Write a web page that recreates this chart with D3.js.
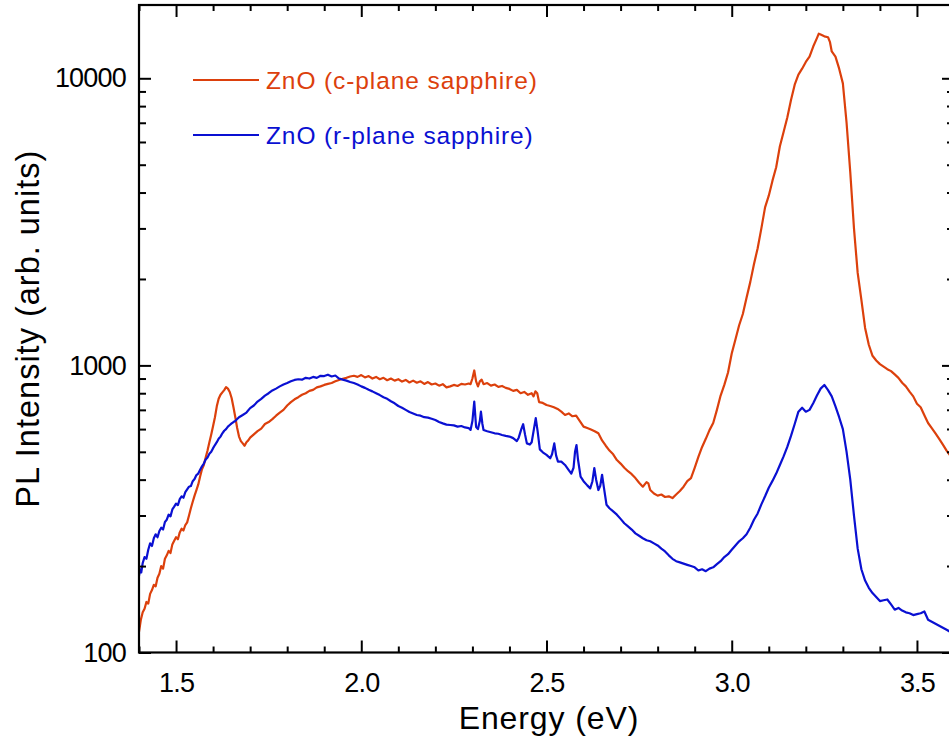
<!DOCTYPE html>
<html>
<head>
<meta charset="utf-8">
<script src="https://cdn.jsdelivr.net/npm/d3@7"></script>
<style>
  html, body { margin: 0; padding: 0; background: #fff; }
  svg { display: block; }
  text { font-family: "Liberation Sans", Arial, sans-serif; }
</style>
</head>
<body>
<div id="chart"></div>
<script>
// PL spectra, [energy (eV), intensity (arb. units)]
const cPlane = [
  [1.400,118],[1.405,130],[1.410,138],[1.415,142],[1.420,150],[1.425,148],[1.430,160],[1.435,165],
  [1.440,172],[1.445,170],[1.450,182],[1.455,188],[1.460,200],[1.465,196],[1.470,212],[1.475,218],
  [1.480,226],[1.485,222],[1.490,238],[1.495,245],[1.500,252],[1.505,248],[1.510,262],[1.515,270],
  [1.520,266],[1.525,278],[1.530,284],[1.535,300],[1.540,318],[1.545,335],[1.550,352],[1.555,368],
  [1.560,385],[1.565,410],[1.570,435],[1.575,450],[1.580,478],[1.585,505],[1.590,540],[1.595,575],
  [1.600,615],[1.605,660],[1.610,720],[1.615,765],[1.620,790],[1.625,805],[1.630,820],[1.635,840],
  [1.640,830],[1.645,808],[1.650,770],[1.655,715],[1.660,660],[1.665,605],[1.670,565],[1.675,545],
  [1.680,535],[1.685,525],[1.690,540],[1.695,548],[1.700,560],[1.710,575],[1.720,590],[1.730,602],
  [1.740,625],[1.750,635],[1.760,650],[1.770,668],[1.780,685],[1.790,700],[1.800,725],[1.810,745],
  [1.820,762],[1.830,775],[1.840,790],[1.850,800],[1.860,815],[1.870,822],[1.880,838],[1.890,845],
  [1.900,855],[1.910,862],[1.920,868],[1.930,880],[1.940,890],[1.950,898],[1.960,905],[1.970,915],
  [1.980,920],[1.990,912],[2.000,925],[2.010,908],[2.020,918],[2.030,900],[2.040,912],[2.050,895],
  [2.060,905],[2.070,888],[2.080,900],[2.090,885],[2.100,895],[2.110,878],[2.120,890],[2.130,872],
  [2.140,885],[2.150,870],[2.160,880],[2.170,862],[2.180,875],[2.190,858],[2.200,865],[2.210,850],
  [2.220,860],[2.230,838],[2.240,845],[2.250,855],[2.260,848],[2.270,862],[2.280,858],[2.290,865],
  [2.295,860],[2.300,900],[2.305,960],[2.310,880],[2.315,845],[2.320,880],[2.325,892],[2.330,860],
  [2.340,868],[2.350,850],[2.360,858],[2.370,842],[2.380,848],[2.390,835],[2.400,828],[2.410,815],
  [2.420,822],[2.430,800],[2.440,808],[2.450,790],[2.460,800],[2.465,780],[2.470,812],[2.475,800],
  [2.480,745],[2.490,740],[2.500,728],[2.510,722],[2.520,715],[2.530,705],[2.540,690],[2.550,672],
  [2.560,680],[2.570,665],[2.580,668],[2.590,640],[2.600,612],[2.610,605],[2.620,598],[2.630,590],
  [2.640,580],[2.650,548],[2.660,525],[2.670,505],[2.680,490],[2.690,468],[2.700,455],[2.710,440],
  [2.720,428],[2.730,418],[2.740,405],[2.750,390],[2.760,378],[2.770,392],[2.775,388],[2.780,368],
  [2.790,358],[2.800,352],[2.810,355],[2.820,348],[2.830,350],[2.840,345],[2.850,355],[2.860,365],
  [2.870,378],[2.880,395],[2.890,405],[2.900,440],[2.910,480],[2.920,520],[2.930,555],[2.940,595],
  [2.950,630],[2.960,700],[2.970,785],[2.980,855],[2.990,945],[3.000,1100],[3.010,1230],[3.020,1380],
  [3.030,1510],[3.040,1720],[3.050,1950],[3.060,2250],[3.070,2560],[3.080,3000],[3.090,3550],[3.100,3900],
  [3.110,4400],[3.120,4900],[3.130,5800],[3.140,6500],[3.150,7300],[3.160,8400],[3.170,9500],[3.180,10300],
  [3.190,10800],[3.200,11400],[3.210,11900],[3.220,12900],[3.230,13800],[3.235,14300],[3.240,14200],[3.250,14000],
  [3.260,13900],[3.265,13400],[3.270,12400],[3.280,11900],[3.290,10800],[3.300,9600],[3.310,7000],[3.320,4700],
  [3.330,3000],[3.340,2100],[3.350,1690],[3.360,1350],[3.370,1180],[3.380,1080],[3.390,1040],[3.400,1010],
  [3.410,990],[3.420,970],[3.430,955],[3.440,930],[3.450,905],[3.460,870],[3.470,845],[3.480,810],
  [3.490,780],[3.500,735],[3.510,715],[3.520,670],[3.530,630],[3.540,605],[3.550,580],[3.560,555],
  [3.570,530],[3.580,505],[3.590,485],[3.600,465]
];

const rPlane = [
  [1.400,185],[1.403,195],[1.406,190],[1.410,205],[1.415,215],[1.420,212],[1.425,228],[1.430,240],
  [1.435,235],[1.440,250],[1.445,258],[1.450,252],[1.455,265],[1.460,272],[1.465,268],[1.470,285],
  [1.475,290],[1.480,302],[1.485,298],[1.490,315],[1.495,322],[1.500,330],[1.505,326],[1.510,342],
  [1.515,350],[1.520,346],[1.525,362],[1.530,370],[1.535,378],[1.540,380],[1.545,395],[1.550,402],
  [1.555,415],[1.560,420],[1.565,433],[1.570,445],[1.575,455],[1.580,470],[1.585,478],[1.590,492],
  [1.595,500],[1.600,515],[1.605,528],[1.610,540],[1.615,555],[1.620,565],[1.625,580],[1.630,592],
  [1.635,600],[1.640,612],[1.645,620],[1.650,628],[1.655,635],[1.660,640],[1.665,650],[1.670,660],
  [1.680,672],[1.690,685],[1.700,710],[1.710,725],[1.720,748],[1.730,765],[1.740,785],[1.750,800],
  [1.760,818],[1.770,830],[1.780,845],[1.790,858],[1.800,868],[1.810,880],[1.820,890],[1.830,895],
  [1.840,892],[1.850,905],[1.860,900],[1.870,912],[1.880,905],[1.890,920],[1.900,918],[1.910,928],
  [1.920,915],[1.930,922],[1.940,900],[1.950,892],[1.960,885],[1.970,875],[1.980,868],[1.990,858],
  [2.000,845],[2.010,835],[2.020,822],[2.030,812],[2.040,800],[2.050,788],[2.060,775],[2.070,765],
  [2.080,750],[2.090,738],[2.100,722],[2.110,712],[2.120,700],[2.130,688],[2.140,680],[2.150,672],
  [2.160,668],[2.170,660],[2.180,658],[2.190,652],[2.200,645],[2.210,635],[2.220,628],[2.230,622],
  [2.240,620],[2.250,618],[2.260,612],[2.270,615],[2.280,608],[2.290,605],[2.295,596],[2.300,640],
  [2.305,748],[2.310,610],[2.315,600],[2.320,640],[2.323,690],[2.327,625],[2.330,596],[2.340,590],
  [2.350,585],[2.360,580],[2.370,578],[2.380,572],[2.390,568],[2.400,565],[2.410,558],[2.420,545],
  [2.425,560],[2.432,600],[2.437,624],[2.442,575],[2.447,535],[2.455,530],[2.460,540],[2.466,600],
  [2.471,655],[2.476,590],[2.482,510],[2.490,498],[2.500,488],[2.510,475],[2.515,490],[2.521,535],
  [2.526,485],[2.531,462],[2.540,462],[2.550,450],[2.560,432],[2.567,420],[2.573,440],[2.577,500],
  [2.581,528],[2.585,470],[2.592,410],[2.600,395],[2.610,382],[2.618,373],[2.624,395],[2.629,439],
  [2.634,400],[2.640,368],[2.645,380],[2.650,416],[2.655,375],[2.662,327],[2.670,318],[2.680,310],
  [2.690,302],[2.700,292],[2.710,282],[2.720,275],[2.730,268],[2.740,260],[2.750,255],[2.760,250],
  [2.770,246],[2.780,244],[2.790,240],[2.800,236],[2.810,230],[2.820,225],[2.830,218],[2.840,212],
  [2.850,208],[2.860,206],[2.870,204],[2.880,202],[2.890,200],[2.900,198],[2.910,193],[2.920,195],
  [2.930,192],[2.940,196],[2.950,198],[2.960,203],[2.970,208],[2.980,215],[2.990,220],[3.000,228],
  [3.010,236],[3.020,244],[3.030,250],[3.040,258],[3.050,272],[3.060,290],[3.070,305],[3.080,328],
  [3.090,350],[3.100,375],[3.110,396],[3.120,420],[3.130,450],[3.140,482],[3.150,520],[3.160,568],
  [3.170,625],[3.180,690],[3.190,712],[3.200,690],[3.210,700],[3.220,738],[3.230,785],[3.240,830],
  [3.250,855],[3.260,820],[3.270,780],[3.280,720],[3.290,660],[3.300,600],[3.310,500],[3.320,400],
  [3.330,300],[3.340,230],[3.350,195],[3.360,178],[3.370,168],[3.380,161],[3.390,156],[3.400,151],
  [3.410,152],[3.420,153],[3.430,147],[3.440,141],[3.450,143],[3.460,140],[3.470,138],[3.480,137],
  [3.490,135],[3.500,136],[3.510,137],[3.520,139],[3.530,130],[3.540,128],[3.550,126],[3.560,124],
  [3.570,122],[3.580,120],[3.590,118],[3.600,116]
];

const seriesNames = ["ZnO (c-plane sapphire)", "ZnO (r-plane sapphire)"];
const seriesColors = ["#dc400c", "#0a10d2"];

const xTicks = [1.5, 2.0, 2.5, 3.0, 3.5];
const yTicks = [100, 1000, 10000];

const W = 949, H = 741;
const margin = { top: 5, right: -5, bottom: 88.5, left: 139 };
const width = W - margin.left - margin.right;
const height = H - margin.top - margin.bottom;

const svg = d3.select("#chart")
  .append("svg")
  .attr("width", W)
  .attr("height", H);

const g = svg.append("g")
  .attr("transform", `translate(${margin.left},${margin.top})`);

const x = d3.scaleLinear().domain([1.4, 3.6]).range([0, width]);
const y = d3.scaleLog().domain([100, 18000]).range([height, 0]);

// minor ticks
const xMinor = d3.range(14, 37).map(d => d / 10).filter(d => !xTicks.some(t => Math.abs(t - d) < 1e-6));
const yMinor = [];
[100, 1000, 10000].forEach(dec => {
  for (let k = 2; k <= 9; k++) {
    const v = dec * k;
    if (v <= 18000) yMinor.push(v);
  }
});

// Clip for data
svg.append("defs").append("clipPath")
  .attr("id", "clip")
  .append("rect")
  .attr("width", width)
  .attr("height", height);

// Lines
const line = d3.line()
  .x(d => x(d[0]))
  .y(d => y(d[1]));

const plot = g.append("g").attr("clip-path", "url(#clip)");
[cPlane, rPlane].forEach((data, i) => {
  plot.append("path")
    .datum(data)
    .attr("fill", "none")
    .attr("stroke", seriesColors[i])
    .attr("stroke-width", 2.2)
    .attr("stroke-linejoin", "round")
    .attr("d", line);
});

// Axes (ticks pointing inward)
const styleAxis = sel => {
  sel.select(".domain").remove();
  sel.selectAll("line").attr("stroke", "#000").attr("stroke-width", 2);
  sel.selectAll("text")
    .attr("fill", "#000")
    .style("font-size", "27px")
    .style("letter-spacing", "-0.8px");
};

g.append("g")
  .attr("transform", `translate(0,${height})`)
  .call(d3.axisBottom(x).tickValues(xTicks).tickFormat(d3.format(".1f")).tickSize(-12).tickPadding(20))
  .call(styleAxis);
g.append("g")
  .attr("transform", `translate(0,${height})`)
  .call(d3.axisBottom(x).tickValues(xMinor).tickFormat("").tickSize(-6))
  .call(styleAxis);

g.append("g")
  .call(d3.axisTop(x).tickValues(xTicks).tickFormat("").tickSize(-12))
  .call(styleAxis);
g.append("g")
  .call(d3.axisTop(x).tickValues(xMinor).tickFormat("").tickSize(-6))
  .call(styleAxis);

g.append("g")
  .call(d3.axisLeft(y).tickValues(yTicks).tickFormat(d3.format("d")).tickSize(-12).tickPadding(13))
  .call(styleAxis);
g.append("g")
  .call(d3.axisLeft(y).tickValues(yMinor).tickFormat("").tickSize(-7))
  .call(styleAxis);

g.append("g")
  .attr("transform", `translate(${width},0)`)
  .call(d3.axisRight(y).tickValues(yTicks).tickFormat("").tickSize(-12))
  .call(styleAxis);
g.append("g")
  .attr("transform", `translate(${width},0)`)
  .call(d3.axisRight(y).tickValues(yMinor).tickFormat("").tickSize(-7))
  .call(styleAxis);

// Frame
g.append("rect")
  .attr("width", width)
  .attr("height", height)
  .attr("fill", "none")
  .attr("stroke", "#000")
  .attr("stroke-width", 2.2);

// Axis titles
svg.append("text")
  .attr("x", 549)
  .attr("y", 729)
  .attr("text-anchor", "middle")
  .style("font-size", "32px")
  .style("letter-spacing", "0.9px")
  .text("Energy (eV)");

svg.append("text")
  .attr("transform", `translate(39,${margin.top + height / 2}) rotate(-90)`)
  .attr("text-anchor", "middle")
  .style("font-size", "32.5px")
  .style("letter-spacing", "1px")
  .text("PL Intensity (arb. units)");

// Legend
const legend = svg.append("g");
seriesNames.forEach((name, i) => {
  const ly = 80 + i * 55;
  legend.append("line")
    .attr("x1", 193).attr("x2", 259)
    .attr("y1", ly).attr("y2", ly)
    .attr("stroke", seriesColors[i])
    .attr("stroke-width", 2);
  legend.append("text")
    .attr("x", 266)
    .attr("y", ly + 9)
    .attr("fill", seriesColors[i])
    .style("font-size", "24.5px")
    .style("letter-spacing", "0.9px")
    .text(name);
});
</script>
</body>
</html>
